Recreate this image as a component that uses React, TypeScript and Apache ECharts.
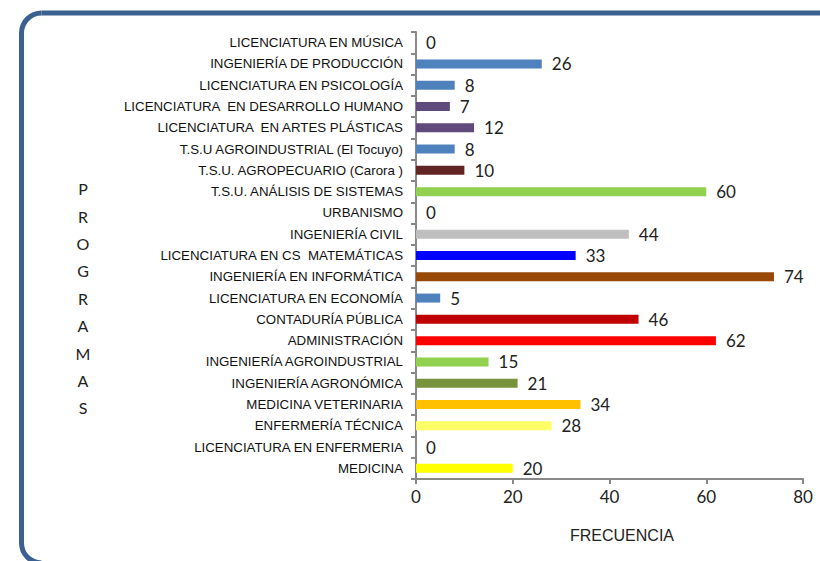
import React, { useEffect, useRef } from "react";
import * as echarts from "echarts";

const categories = [
  "LICENCIATURA EN MÚSICA",
  "INGENIERÍA DE PRODUCCIÓN",
  "LICENCIATURA EN PSICOLOGÍA",
  "LICENCIATURA  EN DESARROLLO HUMANO",
  "LICENCIATURA  EN ARTES PLÁSTICAS",
  "T.S.U AGROINDUSTRIAL (El Tocuyo)",
  "T.S.U. AGROPECUARIO (Carora )",
  "T.S.U. ANÁLISIS DE SISTEMAS",
  "URBANISMO",
  "INGENIERÍA CIVIL",
  "LICENCIATURA EN CS  MATEMÁTICAS",
  "INGENIERÍA EN INFORMÁTICA",
  "LICENCIATURA EN ECONOMÍA",
  "CONTADURÍA PÚBLICA",
  "ADMINISTRACIÓN",
  "INGENIERÍA AGROINDUSTRIAL",
  "INGENIERÍA AGRONÓMICA",
  "MEDICINA VETERINARIA",
  "ENFERMERÍA TÉCNICA",
  "LICENCIATURA EN ENFERMERIA",
  "MEDICINA",
];

const values = [0, 26, 8, 7, 12, 8, 10, 60, 0, 44, 33, 74, 5, 46, 62, 15, 21, 34, 28, 0, 20];

const barColors = [
  "#4F81BD", "#4F81BD", "#4F81BD", "#604A7B", "#604A7B", "#4F81BD", "#632523",
  "#92D050", "#92D050", "#BFBFBF", "#0000FF", "#984807", "#4F81BD", "#C00000",
  "#FF0000", "#92D050", "#77933C", "#FFC000", "#FFFF66", "#FFFF66", "#FFFF00",
];

const xTicks = { min: 0, max: 80, interval: 20 };
const axisTitle = "FRECUENCIA";
const sideTitle = "PROGRAMAS";

export default function App() {
  const ref = useRef<HTMLDivElement>(null);
  useEffect(() => {
    if (!ref.current) return;
    const chart = echarts.init(ref.current, undefined, { renderer: "svg" });
    const narrow = "'Liberation Sans Narrow', 'Arial Narrow', sans-serif";
    const num = "Lato, 'Open Sans', sans-serif";
    const borderColor = "#3A6190";
    const bx = 21.5;
    const by = 13;
    const br = 20;
    chart.setOption({
      animation: false,
      backgroundColor: "#ffffff",
      grid: { left: 416, right: 17, top: 32, bottom: 82, containLabel: false },
      xAxis: {
        type: "value",
        min: xTicks.min,
        max: xTicks.max,
        interval: xTicks.interval,
        axisLine: { show: true, lineStyle: { color: "#888888", width: 2 } },
        axisTick: { show: true, length: 5, lineStyle: { color: "#888888", width: 2 } },
        axisLabel: { fontFamily: num, fontSize: 17, color: "#222", margin: 9 },
        splitLine: { show: false },
      },
      yAxis: {
        type: "category",
        inverse: true,
        data: categories,
        axisLine: { show: true, lineStyle: { color: "#888888", width: 2 } },
        axisTick: { show: true, length: 5, lineStyle: { color: "#888888", width: 2 } },
        axisLabel: {
          interval: 0,
          fontFamily: narrow,
          fontSize: 13.3,
          color: "#111",
          margin: 13,
        },
      },
      series: [
        {
          type: "bar",
          data: values.map((v, i) => ({ value: v, itemStyle: { color: barColors[i] } })),
          barWidth: 9,
          label: {
            show: true,
            position: "right",
            distance: 10,
            fontFamily: num,
            fontSize: 17,
            color: "#222",
          },
        },
      ],
      graphic: [
        {
          type: "line",
          shape: { x1: bx + br, y1: by, x2: 830, y2: by },
          style: { stroke: borderColor, lineWidth: 5 },
          silent: true,
        },
        {
          type: "line",
          shape: { x1: bx, y1: by + br, x2: bx, y2: 561 - br + 2 },
          style: { stroke: borderColor, lineWidth: 5 },
          silent: true,
        },
        {
          type: "arc",
          shape: { cx: bx + br, cy: by + br, r: br, startAngle: Math.PI, endAngle: Math.PI * 1.5 },
          style: { stroke: borderColor, lineWidth: 5, fill: "none" },
          silent: true,
        },
        {
          type: "arc",
          shape: { cx: bx + br, cy: 561 - br + 2, r: br, startAngle: Math.PI * 0.5, endAngle: Math.PI },
          style: { stroke: borderColor, lineWidth: 5, fill: "none" },
          silent: true,
        },
        {
          type: "text",
          x: 622,
          y: 535,
          style: {
            text: axisTitle,
            fontFamily: narrow,
            fontSize: 16,
            fill: "#222",
            align: "center",
            verticalAlign: "middle",
          },
        },
        {
          type: "text",
          x: 83,
          y: 175,
          style: {
            text: sideTitle.split("").join("\n"),
            fontFamily: num,
            fontSize: 16,
            lineHeight: 27.4,
            fill: "#222",
            align: "center",
          },
        },
      ],
    });
    return () => chart.dispose();
  }, []);
  return (
    <div
      ref={ref}
      style={{ position: "fixed", left: 0, top: 0, width: 820, height: 561 }}
    />
  );
}
